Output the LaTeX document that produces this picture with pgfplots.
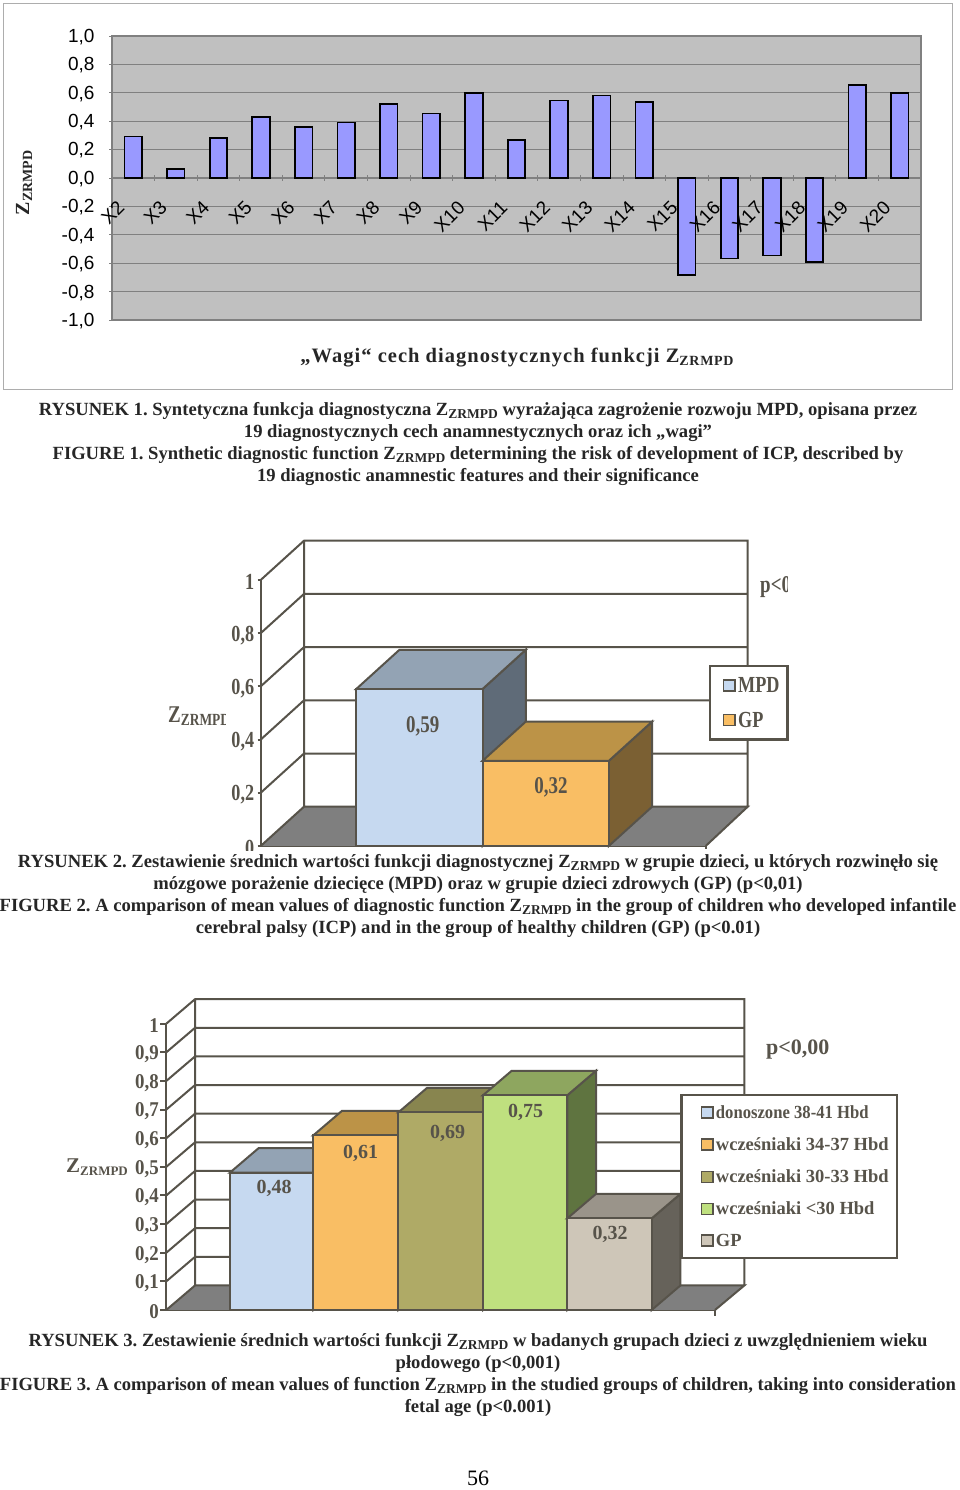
\documentclass[border=0pt]{standalone}
\usepackage{fontspec}
\setmainfont{Liberation Serif}
\setsansfont{Liberation Sans}
\newfontfamily\sq[FakeStretch=0.79]{Liberation Serif}
\newfontfamily\sqb[FakeStretch=0.9]{Liberation Serif}
\usepackage{pgfplots}
\usepackage{pgfplotstable}
\pgfplotsset{compat=1.18}

\definecolor{plotgray}{HTML}{C0C0C0}
\definecolor{gridgray}{HTML}{808080}
\definecolor{barblue}{HTML}{9999FF}
\definecolor{ink}{HTML}{57534A}
\definecolor{floorgray}{HTML}{7F7F7F}
\definecolor{blueF}{HTML}{C6D9F0}
\definecolor{blueT}{HTML}{93A3B4}
\definecolor{blueS}{HTML}{5F6B78}
\definecolor{orF}{HTML}{F9BE64}
\definecolor{orT}{HTML}{BC9347}
\definecolor{orS}{HTML}{7B6033}
\definecolor{olF}{HTML}{AFAA66}
\definecolor{olT}{HTML}{88854F}
\definecolor{grF}{HTML}{BFE07F}
\definecolor{grT}{HTML}{8EA65F}
\definecolor{grS}{HTML}{5F7440}
\definecolor{beF}{HTML}{CEC6B8}
\definecolor{beT}{HTML}{9A948A}
\definecolor{beS}{HTML}{66625A}

% weights of the 19 features, x = middle of each category slot
\pgfplotstableread{
x y
0.5 0.293
1.5 0.063
2.5 0.284
3.5 0.43
4.5 0.36
5.5 0.39
6.5 0.52
7.5 0.455
8.5 0.596
9.5 0.265
10.5 0.545
11.5 0.58
12.5 0.537
13.5 -0.685
14.5 -0.568
15.5 -0.545
16.5 -0.59
17.5 0.653
18.5 0.596
}\wagi

\newcommand\Zs[2]{Z\raisebox{-#1}{\fontsize{#2}{#2}\selectfont ZRMPD}}
\newcommand\capline[2]{\node[anchor=base,inner sep=0pt,text=black!85,
  font=\fontsize{18.6}{20}\selectfont\bfseries\frenchspacing] at (478,{1483-#1}) {#2};}
\newcommand\sub[1]{\raisebox{-3pt}{\fontsize{13.5}{13.5}\selectfont #1}}
\newcommand\keyx{0pt}

\pgfplotsset{
  box3d/.style={line width=2pt,draw=ink},
  wall/.style={line width=2pt,draw=ink},
  sq3d/.style={
    scale only axis,clip=false,
    axis y line=left,axis x line=bottom,
    axis line style={-,line width=2pt,draw=ink},
    tick style={line width=2pt,draw=ink},
    tick align=outside,
    ymin=0,ymax=1,xmin=0,
    yticklabel style={text=ink,yshift=-2pt,font=\sq\bfseries\fontsize{23}{23}\selectfont},
    legend cell align=left,
  },
  keyimg/.style={legend image code/.code={
    \path[draw=none,fill=none] (0pt,-5.5pt) rectangle ({\keyx+12.5pt},5.5pt);
    \draw[fill=#1,draw=ink,line width=1.6pt] (\keyx,-5.5pt) rectangle ({\keyx+11.5pt},5.5pt);}},
  onefig/.style={at={(112pt,1170pt)},anchor=south west,scale only axis,
    width=809pt,height=284pt,xmin=0,xmax=19,ymin=-1,ymax=1,
    xtick={0,1,...,19},hide obscured x ticks=false,tick align=outside},
}

\begin{document}
\begin{tikzpicture}[x=1pt,y=1pt]
\path[use as bounding box] (0,0) rectangle (960,1490);
\fill[white] (0,0) rectangle (960,1490);
\draw[line width=1pt,draw=black!32] (3.5,1486.5) rectangle (952.5,1100);

% ---- figure 1
\begin{axis}[onefig,
  axis x line=middle,axis y line=left,
  axis line style={-,line width=1pt,draw=gridgray},
  axis background/.style={fill=plotgray,draw=gridgray,line width=1.6pt},
  tick style={draw=gridgray,line width=0.8pt},
  major tick length=6pt,
  ymajorgrids,
  grid style={draw=gridgray,line width=0.9pt},
  xticklabels={},
  ytick={-1,-0.8,-0.6,-0.4,-0.2,0,0.2,0.4,0.6,0.8,1},
  yticklabels={{-1,0},{-0,8},{-0,6},{-0,4},{-0,2},{0,0},{0,2},{0,4},{0,6},{0,8},{1,0}},
  yticklabel style={font=\sffamily\fontsize{19}{19}\selectfont,xshift=-11pt,yshift=-1pt},
]
\addplot[ybar,bar shift=0pt,bar width=17.5pt,fill=barblue,draw=black,line width=1.7pt] table {\wagi};
\end{axis}
% category names lie over the bars, so they get their own axis on top
\begin{axis}[onefig,
  axis x line=middle,axis y line=none,
  axis line style={draw=none},
  major tick length=0pt,ytick=\empty,
  xticklabels={X2,X3,X4,X5,X6,X7,X8,X9,X10,X11,X12,X13,X14,X15,X16,X17,X18,X19,X20,{}},
  xticklabel style={rotate=45,anchor=east,xshift=-9pt,yshift=-25pt,
    font=\sffamily\fontsize{19}{19}\selectfont},
]
\end{axis}
\node[rotate=90,font=\bfseries\fontsize{20}{20}\selectfont,text=black!85] at (24,1307) {\Zs{3pt}{14}};
\node[anchor=base,font=\bfseries\fontsize{20.5}{22}\selectfont\addfontfeatures{LetterSpace=5},text=black!85] at (517,1127.5)
  {„Wagi“ cech diagnostycznych funkcji Z\raisebox{-3pt}{\fontsize{14}{14}\selectfont ZRMPD}};

\capline{409}{RYSUNEK 1. Syntetyczna funkcja diagnostyczna Z\sub{ZRMPD} wyrażająca zagrożenie rozwoju MPD, opisana przez}
\capline{431}{19 diagnostycznych cech anamnestycznych oraz ich „wagi”}
\capline{453}{FIGURE 1. Synthetic diagnostic function Z\sub{ZRMPD} determining the risk of development of ICP, described by}
\capline{475}{19 diagnostic anamnestic features and their significance}

% ---- figure 2
\renewcommand\keyx{8pt}
\begin{axis}[sq3d,
  at={(260.7pt,644pt)},anchor=south west,
  width=445pt,height=266pt,xmax=445,
  major tick length=3pt,
  xtick={445},xticklabels={},
  ytick={0,0.2,0.4,0.6,0.8,1},
  yticklabels={0,{0,2},{0,4},{0,6},{0,8},1},
  legend style={at={(1.0063,0.68)},anchor=north west,
    draw=ink,line width=2.2pt,inner xsep=6pt,inner ysep=9pt,
    row sep=14pt,
    nodes={font=\sq\bfseries\fontsize{23}{23}\selectfont,text=ink,inner xsep=2pt}},
]
\addplot[fill=floorgray,draw=none,forget plot] coordinates {(0,0)(445,0)(487,.1477)(43.3,.1477)} --cycle;
\addplot[wall,forget plot,unbounded coords=jump] coordinates {
 (0,0)(43.3,.1477)(487,.1477)(445,0) (0,nan)
 (0,.2)(43.3,.3477)(487,.3477) (0,nan)
 (0,.4)(43.3,.5477)(487,.5477) (0,nan)
 (0,.6)(43.3,.7477)(487,.7477) (0,nan)
 (0,.8)(43.3,.9477)(487,.9477) (0,nan)
 (0,1)(43.3,1.1477)(487,1.1477)(487,.1477) (0,nan)
 (43.3,.1477)(43.3,1.1477)
};
% MPD
\addplot[box3d,fill=blueS,forget plot] coordinates {(221.8,0)(265.1,.1477)(265.1,.7377)(221.8,.59)} --cycle;
\addplot[box3d,fill=blueT,forget plot] coordinates {(95.5,.59)(138.8,.7377)(265.1,.7377)(221.8,.59)} --cycle;
\addplot[ybar,bar shift=0pt,bar width=126.3pt,fill=blueF,box3d,keyimg=blueF] coordinates {(158.65,.59)};
\addlegendentry{MPD}
% GP
\addplot[box3d,fill=orS,forget plot] coordinates {(348.1,0)(391.4,.1477)(391.4,.4677)(348.1,.32)} --cycle;
\addplot[box3d,fill=orT,forget plot] coordinates {(221.8,.32)(265.1,.4677)(391.4,.4677)(348.1,.32)} --cycle;
\addplot[ybar,bar shift=0pt,bar width=126.3pt,fill=orF,box3d,keyimg=orF] coordinates {(284.95,.32)};
\addlegendentry{GP}
\node[text=ink,yshift=-1pt,font=\sq\bfseries\fontsize{24}{24}\selectfont] at (axis cs:162,.453) {0,59};
\node[text=ink,yshift=-1pt,font=\sq\bfseries\fontsize{24}{24}\selectfont] at (axis cs:290.3,.223) {0,32};
\end{axis}
\begin{scope}
\clip (155,740) rectangle (225,800);
\node[anchor=west,inner sep=0pt,text=ink,font=\sq\bfseries\fontsize{24}{24}\selectfont] at (168,774) {\Zs{3pt}{17}};
\end{scope}
\begin{scope}
\clip (750,880) rectangle (787.5,930);
\node[anchor=west,inner sep=0pt,text=ink,font=\sq\bfseries\fontsize{24}{24}\selectfont] at (760,903) {p<0,01};
\end{scope}

\fill[white] (0,615) rectangle (960,639);
\capline{861}{RYSUNEK 2. Zestawienie średnich wartości funkcji diagnostycznej Z\sub{ZRMPD} w grupie dzieci, u których rozwinęło się}
\capline{883}{mózgowe porażenie dziecięce (MPD) oraz w grupie dzieci zdrowych (GP) (p<0,01)}
\capline{905}{FIGURE 2. A comparison of mean values of diagnostic function Z\sub{ZRMPD} in the group of children who developed infantile}
\capline{927}{cerebral palsy (ICP) and in the group of healthy children (GP) (p<0.01)}

% ---- figure 3
\renewcommand\keyx{14pt}
\begin{axis}[sq3d,
  at={(166.3pt,180pt)},anchor=south west,
  width=548.7pt,height=286.3pt,xmax=548.7,
  major tick length=6pt,
  xtick={548.7},xticklabels={},
  ytick={0,0.1,0.2,0.3,0.4,0.5,0.6,0.7,0.8,0.9,1},
  yticklabels={0,{0,1},{0,2},{0,3},{0,4},{0,5},{0,6},{0,7},{0,8},{0,9},1},
  yticklabel style={font=\sqb\bfseries\fontsize{21}{21}\selectfont,xshift=2pt},
  legend style={at={(0.9368,0.7545)},anchor=north west,
    draw=ink,line width=2.2pt,inner xsep=6pt,inner ysep=8.5pt,
    row sep=13.7pt,
    nodes={font=\bfseries\fontsize{18.5}{19}\selectfont,text=ink,inner xsep=2pt}},
]
\addplot[fill=floorgray,draw=none,forget plot] coordinates {(0,0)(548.7,0)(578,.0856)(28.7,.0856)} --cycle;
\addplot[wall,forget plot,unbounded coords=jump] coordinates {
 (0,0)(28.7,.0856)(578,.0856)(548.7,0) (0,nan)
 (0,.1)(28.7,.1856)(578,.1856) (0,nan)
 (0,.2)(28.7,.2856)(578,.2856) (0,nan)
 (0,.3)(28.7,.3856)(578,.3856) (0,nan)
 (0,.4)(28.7,.4856)(578,.4856) (0,nan)
 (0,.5)(28.7,.5856)(578,.5856) (0,nan)
 (0,.6)(28.7,.6856)(578,.6856) (0,nan)
 (0,.7)(28.7,.7856)(578,.7856) (0,nan)
 (0,.8)(28.7,.8856)(578,.8856) (0,nan)
 (0,.9)(28.7,.9856)(578,.9856) (0,nan)
 (0,1)(28.7,1.0856)(578,1.0856)(578,.0856) (0,nan)
 (28.7,.0856)(28.7,1.0856)
};
\addplot[box3d,fill=blueS,forget plot] coordinates {(147,0)(175.7,.0856)(175.7,.5656)(147,.48)} --cycle;
\addplot[box3d,fill=blueT,forget plot] coordinates {(63.7,.48)(92.4,.5656)(175.7,.5656)(147,.48)} --cycle;
\addplot[ybar,bar shift=0pt,bar width=83.3pt,fill=blueF,box3d,keyimg=blueF] coordinates {(105.35,.48)};
\addlegendentry{{\sqb donoszone 38-41 Hbd}}
\addplot[box3d,fill=orS,forget plot] coordinates {(232,0)(260.7,.0856)(260.7,.6956)(232,.61)} --cycle;
\addplot[box3d,fill=orT,forget plot] coordinates {(147,.61)(175.7,.6956)(260.7,.6956)(232,.61)} --cycle;
\addplot[ybar,bar shift=0pt,bar width=85pt,fill=orF,box3d,keyimg=orF] coordinates {(189.5,.61)};
\addlegendentry{wcześniaki 34-37 Hbd}
\addplot[box3d,fill=olT,forget plot] coordinates {(316.7,0)(345.4,.0856)(345.4,.7756)(316.7,.69)} --cycle;
\addplot[box3d,fill=olT,forget plot] coordinates {(232,.69)(260.7,.7756)(345.4,.7756)(316.7,.69)} --cycle;
\addplot[ybar,bar shift=0pt,bar width=84.7pt,fill=olF,box3d,keyimg=olF] coordinates {(274.35,.69)};
\addlegendentry{wcześniaki 30-33 Hbd}
\addplot[box3d,fill=grS,forget plot] coordinates {(401,0)(429.7,.0856)(429.7,.8356)(401,.75)} --cycle;
\addplot[box3d,fill=grT,forget plot] coordinates {(316.7,.75)(345.4,.8356)(429.7,.8356)(401,.75)} --cycle;
\addplot[ybar,bar shift=0pt,bar width=84.3pt,fill=grF,box3d,keyimg=grF] coordinates {(358.85,.75)};
\addlegendentry{wcześniaki <30 Hbd}
\addplot[box3d,fill=beS,forget plot] coordinates {(485.4,0)(514.1,.0856)(514.1,.4056)(485.4,.32)} --cycle;
\addplot[box3d,fill=beT,forget plot] coordinates {(401,.32)(429.7,.4056)(514.1,.4056)(485.4,.32)} --cycle;
\addplot[ybar,bar shift=0pt,bar width=84.4pt,fill=beF,box3d,keyimg=beF] coordinates {(443.2,.32)};
\addlegendentry{GP}
\node[text=ink,yshift=-2pt,font=\bfseries\fontsize{20}{20}\selectfont] at (axis cs:107.7,.43) {0,48};
\node[text=ink,yshift=-2pt,font=\bfseries\fontsize{20}{20}\selectfont] at (axis cs:194.4,.554) {0,61};
\node[text=ink,yshift=-2pt,font=\bfseries\fontsize{20}{20}\selectfont] at (axis cs:281.4,.625) {0,69};
\node[text=ink,yshift=-2pt,font=\bfseries\fontsize{20}{20}\selectfont] at (axis cs:359.4,.698) {0,75};
\node[text=ink,yshift=-1pt,font=\bfseries\fontsize{20}{20}\selectfont] at (axis cs:443.7,.268) {0,32};
\end{axis}
\node[anchor=west,inner sep=0pt,text=ink,font=\bfseries\fontsize{21}{21}\selectfont] at (66,323) {\Zs{3pt}{13}};
\node[anchor=west,inner sep=0pt,text=ink,font=\bfseries\fontsize{22}{22}\selectfont] at (766,440.5) {p<0,00};

\capline{1340}{RYSUNEK 3. Zestawienie średnich wartości funkcji Z\sub{ZRMPD} w badanych grupach dzieci z uwzględnieniem wieku}
\capline{1362}{płodowego (p<0,001)}
\capline{1384}{FIGURE 3. A comparison of mean values of function Z\sub{ZRMPD} in the studied groups of children, taking into consideration}
\capline{1406}{fetal age (p<0.001)}

\node[font=\fontsize{22}{22}\selectfont] at (478,12) {56};
\end{tikzpicture}
\end{document}
